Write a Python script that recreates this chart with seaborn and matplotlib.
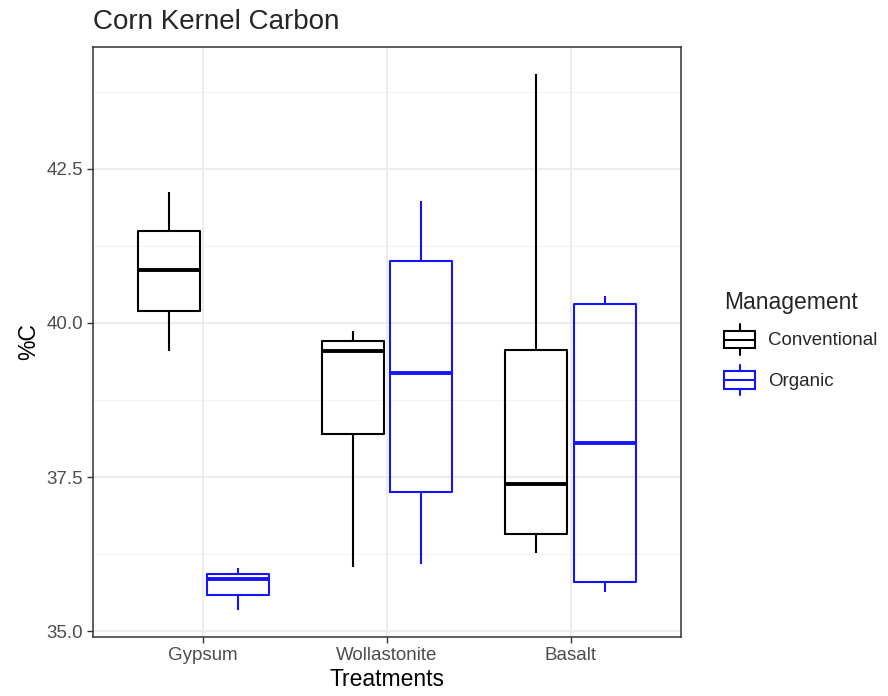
import numpy as np
import pandas as pd
import matplotlib
matplotlib.use("Agg")
import matplotlib.pyplot as plt
import seaborn as sns
from matplotlib.ticker import MultipleLocator, FixedLocator
from matplotlib.patches import Rectangle, Patch
from matplotlib.lines import Line2D
from matplotlib.legend_handler import HandlerBase

# ---- data (five-number summaries) ----
treatments = ["Gypsum", "Wollastonite", "Basalt"]
management = ["Conventional", "Organic"]
gypsum_conventional = [39.55, 40.20, 40.86, 41.49, 42.12]
gypsum_organic = [35.34, 35.58, 35.84, 35.93, 36.02]
wollastonite_conventional = [36.04, 38.19, 39.55, 39.70, 39.87]
wollastonite_organic = [36.09, 37.26, 39.18, 41.00, 41.98]
basalt_conventional = [36.27, 36.57, 37.38, 39.56, 44.04]
basalt_organic = [35.64, 35.79, 38.05, 40.31, 40.44]
y_ticks = [35.0, 37.5, 40.0, 42.5]
y_tick_labels = ["35.0", "37.5", "40.0", "42.5"]
colors = {"Conventional": "#000000", "Organic": "#1414FF"}

groups = {
    ("Gypsum", "Conventional"): gypsum_conventional,
    ("Gypsum", "Organic"): gypsum_organic,
    ("Wollastonite", "Conventional"): wollastonite_conventional,
    ("Wollastonite", "Organic"): wollastonite_organic,
    ("Basalt", "Conventional"): basalt_conventional,
    ("Basalt", "Organic"): basalt_organic,
}
rows = []
for (t, m), vals in groups.items():
    for v in vals:
        rows.append({"Treatments": t, "Management": m, "C": v})
df = pd.DataFrame(rows)

sns.set_theme(style="white")
plt.rcParams["font.family"] = ["Liberation Sans", "DejaVu Sans"]

fig = plt.figure(figsize=(8.88, 6.96), dpi=100)
ax = fig.add_axes([93 / 888, 1 - 637 / 696, (681 - 93) / 888, (637 - 47) / 696])

sns.boxplot(
    data=df, x="Treatments", y="C", hue="Management",
    order=treatments, hue_order=management, palette=colors,
    fill=False, width=0.75, gap=0.1, whis=(0, 100), saturation=1,
    linewidth=1.5, showcaps=False, legend=False, ax=ax,
    medianprops=dict(linewidth=2.8),
    zorder=3,
)

# limits with ggplot-style expansion
allv = np.concatenate([np.asarray(v) for v in groups.values()])
rng = allv.max() - allv.min()
ax.set_ylim(allv.min() - 0.05 * rng, allv.max() + 0.05 * rng)
ax.set_xlim(-0.6, 2.6)

ax.yaxis.set_major_locator(FixedLocator(y_ticks))
ax.set_yticklabels(y_tick_labels)
ax.yaxis.set_minor_locator(MultipleLocator(1.25))
ax.set_axisbelow(True)
ax.grid(which="major", color="#EBEBEB", linewidth=1.3)
ax.grid(which="minor", axis="y", color="#F2F2F2", linewidth=0.8)
ax.tick_params(which="minor", length=0)
ax.tick_params(which="major", length=4.5, width=1.0, color="#333333",
               labelcolor="#4D4D4D", labelsize=13.5, pad=2.5,
               left=True, bottom=True)
for s in ax.spines.values():
    s.set_visible(True)
    s.set_color("#333333")
    s.set_linewidth(1.1)

ax.set_xlabel("Treatments", fontsize=16.5, color="black", labelpad=3)
ax.set_ylabel("%C", fontsize=16.5, color="black", labelpad=5)
ax.set_title("Corn Kernel Carbon", loc="left", fontsize=20, pad=13)


class BoxHandler(HandlerBase):
    def create_artists(self, legend, orig_handle, xdescent, ydescent,
                       width, height, fontsize, trans):
        c = orig_handle.get_edgecolor()
        x0, y0 = -xdescent, -ydescent
        bh = height * 0.57
        by = y0 + (height - bh) / 2
        rect = Rectangle((x0, by), width, bh, facecolor="white",
                         edgecolor=c, linewidth=1.5, transform=trans)
        xm = x0 + width / 2
        med = Line2D([x0, x0 + width], [y0 + height / 2] * 2, color=c,
                     linewidth=1.5, transform=trans)
        w1 = Line2D([xm, xm], [y0, by], color=c, linewidth=1.5, transform=trans)
        w2 = Line2D([xm, xm], [by + bh, y0 + height], color=c, linewidth=1.5,
                    transform=trans)
        return [rect, med, w1, w2]


handles = [Patch(edgecolor=colors[m], facecolor="white") for m in management]
leg = fig.legend(
    handles, management, title="Management",
    loc="upper left", bbox_to_anchor=(711 / 888, 1 - 278 / 696),
    frameon=False, fontsize=13.5, title_fontsize=16.5,
    handler_map={Patch: BoxHandler()},
    handlelength=1.65, handleheight=2.1, handletextpad=0.7,
    labelspacing=0.55, borderpad=0.2,
)
leg._legend_box.align = "left"

fig.savefig("out.png", dpi=100, facecolor="white")
